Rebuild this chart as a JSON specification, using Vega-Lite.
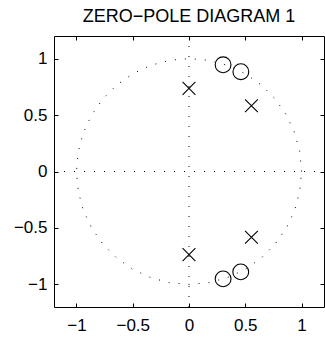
{
  "$schema": "https://vega.github.io/schema/vega-lite/v6.json",
  "width": 270,
  "height": 271,
  "autosize": {"type": "none"},
  "padding": {"left": 54, "top": 36, "right": 1, "bottom": 31},
  "title": {"text": "ZERO−POLE DIAGRAM 1", "font": "Liberation Sans", "fontSize": 18, "fontWeight": "normal", "color": "black", "anchor": "middle", "baseline": "alphabetic", "offset": 12, "dy": 16},
  "config": {
    "view": {"stroke": null},
    "axis": {"domainColor": "black", "domainWidth": 1, "tickColor": "black", "tickWidth": 1, "labelColor": "black", "labelFont": "Liberation Sans", "labelFontSize": 17, "grid": false, "title": null}
  },
  "datasets": {
    "unitCircle": [
      {"k": 0, "re": 1, "im": 0}, {"k": 1, "re": 0.9848, "im": 0.1736}, {"k": 2, "re": 0.9397, "im": 0.342}, {"k": 3, "re": 0.866, "im": 0.5},
      {"k": 4, "re": 0.766, "im": 0.6428}, {"k": 5, "re": 0.6428, "im": 0.766}, {"k": 6, "re": 0.5, "im": 0.866}, {"k": 7, "re": 0.342, "im": 0.9397},
      {"k": 8, "re": 0.1736, "im": 0.9848}, {"k": 9, "re": 0, "im": 1}, {"k": 10, "re": -0.1736, "im": 0.9848}, {"k": 11, "re": -0.342, "im": 0.9397},
      {"k": 12, "re": -0.5, "im": 0.866}, {"k": 13, "re": -0.6428, "im": 0.766}, {"k": 14, "re": -0.766, "im": 0.6428}, {"k": 15, "re": -0.866, "im": 0.5},
      {"k": 16, "re": -0.9397, "im": 0.342}, {"k": 17, "re": -0.9848, "im": 0.1736}, {"k": 18, "re": -1, "im": 0}, {"k": 19, "re": -0.9848, "im": -0.1736},
      {"k": 20, "re": -0.9397, "im": -0.342}, {"k": 21, "re": -0.866, "im": -0.5}, {"k": 22, "re": -0.766, "im": -0.6428}, {"k": 23, "re": -0.6428, "im": -0.766},
      {"k": 24, "re": -0.5, "im": -0.866}, {"k": 25, "re": -0.342, "im": -0.9397}, {"k": 26, "re": -0.1736, "im": -0.9848}, {"k": 27, "re": 0, "im": -1},
      {"k": 28, "re": 0.1736, "im": -0.9848}, {"k": 29, "re": 0.342, "im": -0.9397}, {"k": 30, "re": 0.5, "im": -0.866}, {"k": 31, "re": 0.6428, "im": -0.766},
      {"k": 32, "re": 0.766, "im": -0.6428}, {"k": 33, "re": 0.866, "im": -0.5}, {"k": 34, "re": 0.9397, "im": -0.342}, {"k": 35, "re": 0.9848, "im": -0.1736},
      {"k": 36, "re": 1, "im": 0}
    ],
    "axesLines": [
      {"x1": -1.2, "x2": 1.2, "y1": 0, "y2": 0},
      {"x1": 0, "x2": 0, "y1": -1.2, "y2": 1.2}
    ],
    "poles": [
      {"re": 0, "im": 0.736}, {"re": 0, "im": -0.736}, {"re": 0.555, "im": 0.582}, {"re": 0.555, "im": -0.582}
    ],
    "zeros": [
      {"re": 0.303, "im": 0.945}, {"re": 0.303, "im": -0.951}, {"re": 0.461, "im": 0.884}, {"re": 0.46, "im": -0.889}
    ]
  },
  "layer": [
    {
      "data": {"name": "axesLines"},
      "mark": {"type": "rule", "color": "black", "strokeWidth": 1, "strokeDash": [1, 9]},
      "encoding": {
        "x": {"field": "x1", "type": "quantitative", "scale": {"domain": [-1.2, 1.2], "nice": false, "zero": false}, "axis": {"orient": "bottom", "title": null, "values": [-1, -0.5, 0, 0.5, 1], "format": "~g", "tickSize": -4, "labelPadding": 14}},
        "x2": {"field": "x2"},
        "y": {"field": "y1", "type": "quantitative", "scale": {"domain": [-1.2, 1.2], "nice": false, "zero": false}, "axis": {"orient": "left", "title": null, "values": [-1, -0.5, 0, 0.5, 1], "format": "~g", "tickSize": -4, "labelPadding": 11}},
        "y2": {"field": "y2"}
      }
    },
    {
      "data": {"name": "unitCircle"},
      "mark": {"type": "line", "color": "black", "strokeWidth": 1, "strokeDash": [1, 9]},
      "encoding": {
        "x": {"field": "re", "type": "quantitative", "axis": {"orient": "top", "title": null, "values": [-1, -0.5, 0, 0.5, 1], "labels": false, "tickSize": -4, "minExtent": 0, "maxExtent": 0}},
        "y": {"field": "im", "type": "quantitative", "axis": {"orient": "right", "title": null, "values": [-1, -0.5, 0, 0.5, 1], "labels": false, "tickSize": -4, "minExtent": 0, "maxExtent": 0}},
        "order": {"field": "k", "type": "quantitative"}
      }
    },
    {
      "data": {"name": "poles"},
      "mark": {"type": "point", "shape": "M-1,-1L1,1M-1,1L1,-1", "size": 165, "filled": false, "stroke": "black", "strokeWidth": 1.1, "opacity": 1},
      "encoding": {
        "x": {"field": "re", "type": "quantitative", "axis": null},
        "y": {"field": "im", "type": "quantitative", "axis": null}
      }
    },
    {
      "data": {"name": "zeros"},
      "mark": {"type": "point", "shape": "circle", "size": 250, "filled": false, "stroke": "black", "strokeWidth": 1.1, "opacity": 1},
      "encoding": {
        "x": {"field": "re", "type": "quantitative", "axis": null},
        "y": {"field": "im", "type": "quantitative", "axis": null}
      }
    }
  ],
  "resolve": {"axis": {"x": "independent", "y": "independent"}}
}
